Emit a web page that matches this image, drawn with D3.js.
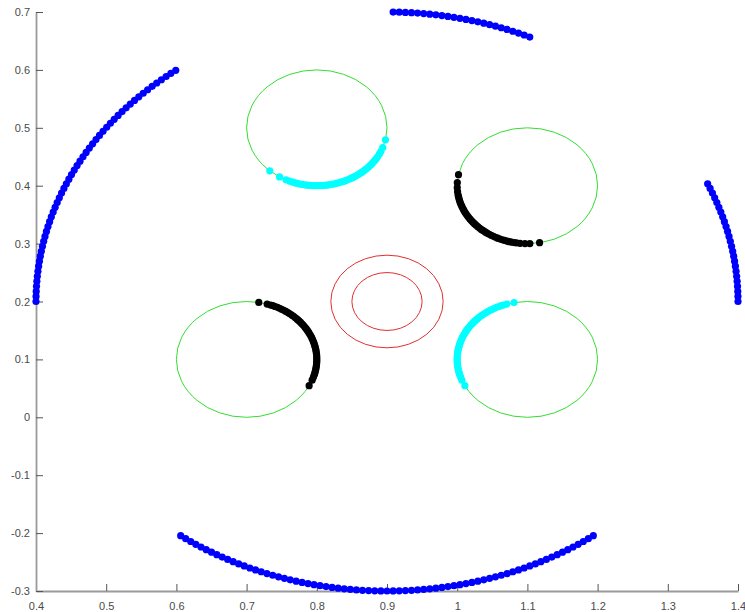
<!DOCTYPE html>
<html>
<head>
<meta charset="utf-8">
<script src="https://cdn.jsdelivr.net/npm/d3@7"></script>
<style>
  html, body { margin: 0; padding: 0; background: #fff; }
  svg { display: block; }
  .tick text { font-family: "Liberation Sans", Arial, Helvetica, sans-serif; font-size: 11px; fill: #4a4a4a; }
</style>
</head>
<body>
<svg id="chart" width="745" height="612"></svg>
<script>
// Axis ticks
const xTicks = [0.4, 0.5, 0.6, 0.7, 0.8, 0.9, 1.0, 1.1, 1.2, 1.3, 1.4];
const xTickLabels = ["0.4", "0.5", "0.6", "0.7", "0.8", "0.9", "1", "1.1", "1.2", "1.3", "1.4"];
const yTicks = [-0.3, -0.2, -0.1, 0, 0.1, 0.2, 0.3, 0.4, 0.5, 0.6, 0.7];
const yTickLabels = ["-0.3", "-0.2", "-0.1", "0", "0.1", "0.2", "0.3", "0.4", "0.5", "0.6", "0.7"];

// Outer ring: centre and radius, with the angles (degrees) of the blue samples on each arc
const ringCenter = [0.9, 0.2];
const ringRadius = 0.5;
const blueLeftDeg = [127, 128, 129, 130, 131, 132, 133, 134, 135, 136, 137, 138, 139, 140, 141, 142, 143, 144,
  145, 146, 147, 148, 149, 150, 151, 152, 153, 154, 155, 156, 157, 158, 159, 160, 161, 162, 163, 164, 165,
  166, 167, 168, 169, 170, 171, 172, 173, 174, 175, 176, 177, 178, 179, 180];
const blueTopDeg = [66, 67, 68, 69, 70, 71, 72, 73, 74, 75, 76, 77, 78, 79, 80, 81, 82, 83, 84, 85, 86, 87, 88, 89];
const blueRightDeg = [0, 1, 2, 3, 4, 5, 6, 7, 8, 9, 10, 11, 12, 13, 14, 15, 16, 17, 18, 19, 20, 21, 22, 23, 24];
const blueBottomDeg = [234, 235, 236, 237, 238, 239, 240, 241, 242, 243, 244, 245, 246, 247, 248, 249, 250,
  251, 252, 253, 254, 255, 256, 257, 258, 259, 260, 261, 262, 263, 264, 265, 266, 267, 268, 269, 270, 271,
  272, 273, 274, 275, 276, 277, 278, 279, 280, 281, 282, 283, 284, 285, 286, 287, 288, 289, 290, 291, 292,
  293, 294, 295, 296, 297, 298, 299, 300, 301, 302, 303, 304, 305, 306];

// Small green wheels (centres) and their radius
const wheelCenters = [[0.8, 0.5], [1.1, 0.4], [0.7, 0.1], [1.1, 0.1]];
const wheelRadius = 0.1;

// Red hub rings around the ring centre
const hubRadii = [0.05, 0.08];

// Samples on each wheel (degrees)
const cyanUpperLeftDeg = [348, 340, 336, 333, 330, 328, 326, 324, 322, 320, 318, 316, 314, 312, 310, 308, 306,
  304, 302, 300, 298, 296, 294, 292, 290, 288, 286, 284, 282, 280, 278, 276, 274, 272, 270, 268, 266, 264,
  262, 260, 258, 256, 254, 252, 250, 247, 244, 238, 228];
const blackUpperRightDeg = [169, 177, 182, 186, 189, 191, 193, 195, 197, 199, 201, 203, 205, 207, 209, 211, 213,
  215, 217, 219, 221, 223, 225, 227, 229, 231, 233, 235, 237, 239, 241, 243, 245, 247, 249, 251, 253, 255,
  257, 259, 261, 264, 268, 272, 280];
const blackLowerLeftDeg = [80, 73, 70, 68, 66, 64, 62, 60, 58, 56, 54, 52, 50, 48, 46, 44, 42, 40, 38, 36, 34,
  32, 30, 28, 26, 24, 22, 20, 18, 16, 14, 12, 10, 8, 6, 4, 2, 0, -2, -4, -6, -8, -10, -12, -14, -16, -18,
  -21, -27];
const cyanLowerRightDeg = [101, 107, 110, 112, 114, 116, 118, 120, 122, 124, 126, 128, 130, 132, 134, 136, 138,
  140, 142, 144, 146, 148, 150, 152, 154, 156, 158, 160, 162, 164, 166, 168, 170, 172, 174, 176, 178, 180,
  182, 184, 186, 188, 190, 192, 194, 196, 198, 201, 207];

const svg = d3.select("#chart");
const x = d3.scaleLinear().domain([0.4, 1.4]).range([36, 738]);
const y = d3.scaleLinear().domain([-0.3, 0.7]).range([591, 12]);

// Axes (left and bottom only, ticks pointing inward)
const gx = svg.append("g").attr("transform", "translate(0,591)")
  .call(d3.axisBottom(x).tickValues(xTicks).tickFormat((d, i) => xTickLabels[i])
    .tickSizeInner(-7).tickSizeOuter(0).tickPadding(11));
const gy = svg.append("g").attr("transform", "translate(36,0)")
  .call(d3.axisLeft(y).tickValues(yTicks).tickFormat((d, i) => yTickLabels[i])
    .tickSizeInner(-7).tickSizeOuter(0).tickPadding(6));
[gx, gy].forEach(g => {
  g.select(".domain").attr("stroke", "#9a9a9a").attr("stroke-width", 1.8);
  g.selectAll(".tick line").attr("stroke", "#555555");
});

// Circles in data units become ellipses on screen
const rx = r => x(r) - x(0);
const ry = r => y(0) - y(r);

const curves = svg.append("g").attr("fill", "none");
curves.selectAll("ellipse.wheel").data(wheelCenters).join("ellipse")
  .attr("class", "wheel")
  .attr("cx", d => x(d[0])).attr("cy", d => y(d[1]))
  .attr("rx", rx(wheelRadius)).attr("ry", ry(wheelRadius))
  .attr("stroke", "#33dd33").attr("stroke-width", 1);
curves.selectAll("ellipse.hub").data(hubRadii).join("ellipse")
  .attr("class", "hub")
  .attr("cx", x(ringCenter[0])).attr("cy", y(ringCenter[1]))
  .attr("rx", d => rx(d)).attr("ry", d => ry(d))
  .attr("stroke", "#e03030").attr("stroke-width", 1);

// Marker layers: angles on a circle of given centre and radius
function drawDots(degs, center, radius, color, r) {
  const rad = Math.PI / 180;
  svg.append("g").selectAll("circle").data(degs).join("circle")
    .attr("cx", d => x(center[0] + radius * Math.cos(d * rad)))
    .attr("cy", d => y(center[1] + radius * Math.sin(d * rad)))
    .attr("r", r)
    .attr("fill", color);
}

drawDots(blueLeftDeg, ringCenter, ringRadius, "#0000ff", 3.6);
drawDots(blueTopDeg, ringCenter, ringRadius, "#0000ff", 3.6);
drawDots(blueRightDeg, ringCenter, ringRadius, "#0000ff", 3.6);
drawDots(blueBottomDeg, ringCenter, ringRadius, "#0000ff", 3.6);

drawDots(cyanUpperLeftDeg, wheelCenters[0], wheelRadius, "#00ffff", 3.6);
drawDots(blackUpperRightDeg, wheelCenters[1], wheelRadius, "#000000", 3.6);
drawDots(blackLowerLeftDeg, wheelCenters[2], wheelRadius, "#000000", 3.6);
drawDots(cyanLowerRightDeg, wheelCenters[3], wheelRadius, "#00ffff", 3.6);
</script>
</body>
</html>
